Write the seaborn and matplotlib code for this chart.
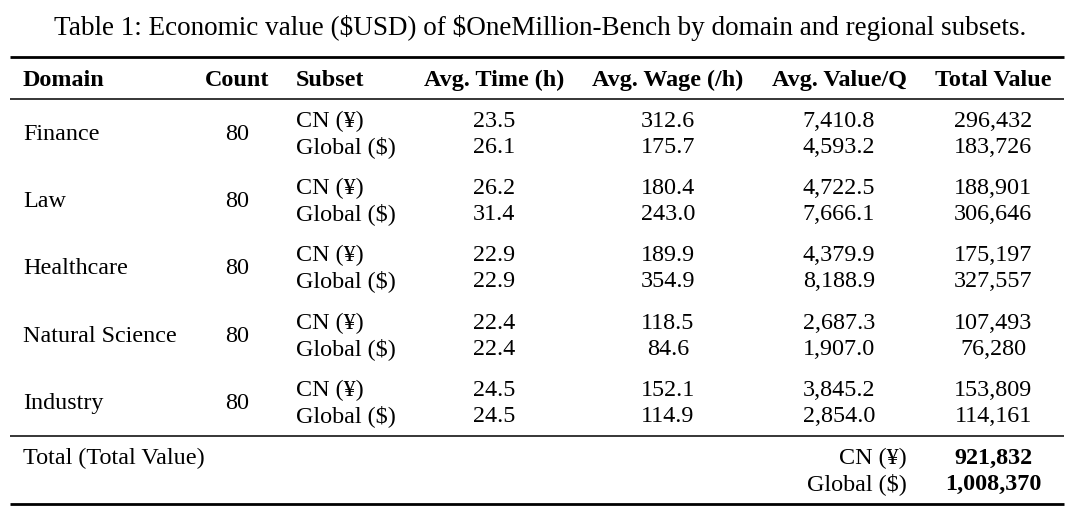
import matplotlib
matplotlib.use("Agg")
import matplotlib.pyplot as plt
import seaborn as sns
import pandas as pd

# ---------------- data ----------------
title = "Table 1: Economic value ($USD) of $OneMillion-Bench by domain and regional subsets."
headers = ["Domain", "Count", "Subset", "Avg. Time (h)", "Avg. Wage (/h)", "Avg. Value/Q", "Total Value"]
domains = ["Finance", "Law", "Healthcare", "Natural Science", "Industry"]
counts = [80, 80, 80, 80, 80]
subsets = ["CN (¥)", "Global ($)"]

avg_time_cn = [23.5, 26.2, 22.9, 22.4, 24.5]
avg_time_gl = [26.1, 31.4, 22.9, 22.4, 24.5]
avg_wage_cn = [312.6, 180.4, 189.9, 118.5, 152.1]
avg_wage_gl = [175.7, 243.0, 354.9, 84.6, 114.9]
avg_value_cn = [7410.8, 4722.5, 4379.9, 2687.3, 3845.2]
avg_value_gl = [4593.2, 7666.1, 8188.9, 1907.0, 2854.0]
total_value_cn = [296432, 188901, 175197, 107493, 153809]
total_value_gl = [183726, 306646, 327557, 76280, 114161]

total_label = "Total (Total Value)"
grand_total = [921832, 1008370]

# ---------------- style ----------------
sns.set_theme(style="white")
plt.rcParams["font.family"] = ["Liberation Serif", "DejaVu Serif"]
plt.rcParams["text.parse_math"] = False
plt.rcParams["text.color"] = "black"

fig = plt.figure(figsize=(10.8, 5.2), dpi=100)
ax = fig.add_axes([0, 0, 1, 1])
ax.set_xlim(0, 1080)
ax.set_ylim(520, 0)
ax.axis("off")

FS = 17.4
TFS = 19.5
col_x = {"Domain": 23, "Count": 237, "Subset": 296, "Avg. Time (h)": 494,
         "Avg. Wage (/h)": 668, "Avg. Value/Q": 839, "Total Value": 993}
col_ha = {"Domain": "left", "Count": "center", "Subset": "left"}

def put(x, y, s, ha="center", bold=False, fs=FS):
    ax.text(x, round(y), s, ha=ha, va="baseline", fontsize=fs, color="black",
            fontweight="bold" if bold else "normal", parse_math=False)

# title
put(540, 35, title, fs=TFS)

# rules
x0, x1 = 10, 1064
ax.hlines([57, 504], x0, x1, colors="black", linewidth=2.0)
ax.hlines([99, 436], x0, x1, colors="black", linewidth=1.1)

# header
hy = 86
for h in headers:
    put(col_x[h], hy, h, ha=col_ha.get(h, "center"), bold=True)

# body
df = pd.DataFrame({
    "domain": domains, "count": counts,
    "t_cn": avg_time_cn, "t_gl": avg_time_gl,
    "w_cn": avg_wage_cn, "w_gl": avg_wage_gl,
    "v_cn": avg_value_cn, "v_gl": avg_value_gl,
    "tv_cn": total_value_cn, "tv_gl": total_value_gl,
})

mid_first = 140.0
pitch = 67.2
half = 13
for i, r in df.iterrows():
    ym = round(mid_first + i * pitch)
    y_cn = ym - half
    y_gl = ym + half
    put(col_x["Domain"], ym, r["domain"], ha="left")
    put(col_x["Count"], ym, str(int(r["count"])))
    for y, suf, sub in [(y_cn, "cn", subsets[0]), (y_gl, "gl", subsets[1])]:
        put(col_x["Subset"], y, sub, ha="left")
        put(col_x["Avg. Time (h)"], y, f"{r['t_' + suf]:.1f}")
        put(col_x["Avg. Wage (/h)"], y, f"{r['w_' + suf]:.1f}")
        put(col_x["Avg. Value/Q"], y, f"{r['v_' + suf]:,.1f}")
        put(col_x["Total Value"], y, f"{int(r['tv_' + suf]):,}")

# total rows
ty = [464, 490]
put(col_x["Domain"], ty[0], total_label, ha="left")
for y, sub, val in zip(ty, subsets, grand_total):
    put(907, y, sub, ha="right")
    put(col_x["Total Value"], y, f"{val:,}", bold=True)

fig.savefig("out.png", dpi=100, facecolor="white")
